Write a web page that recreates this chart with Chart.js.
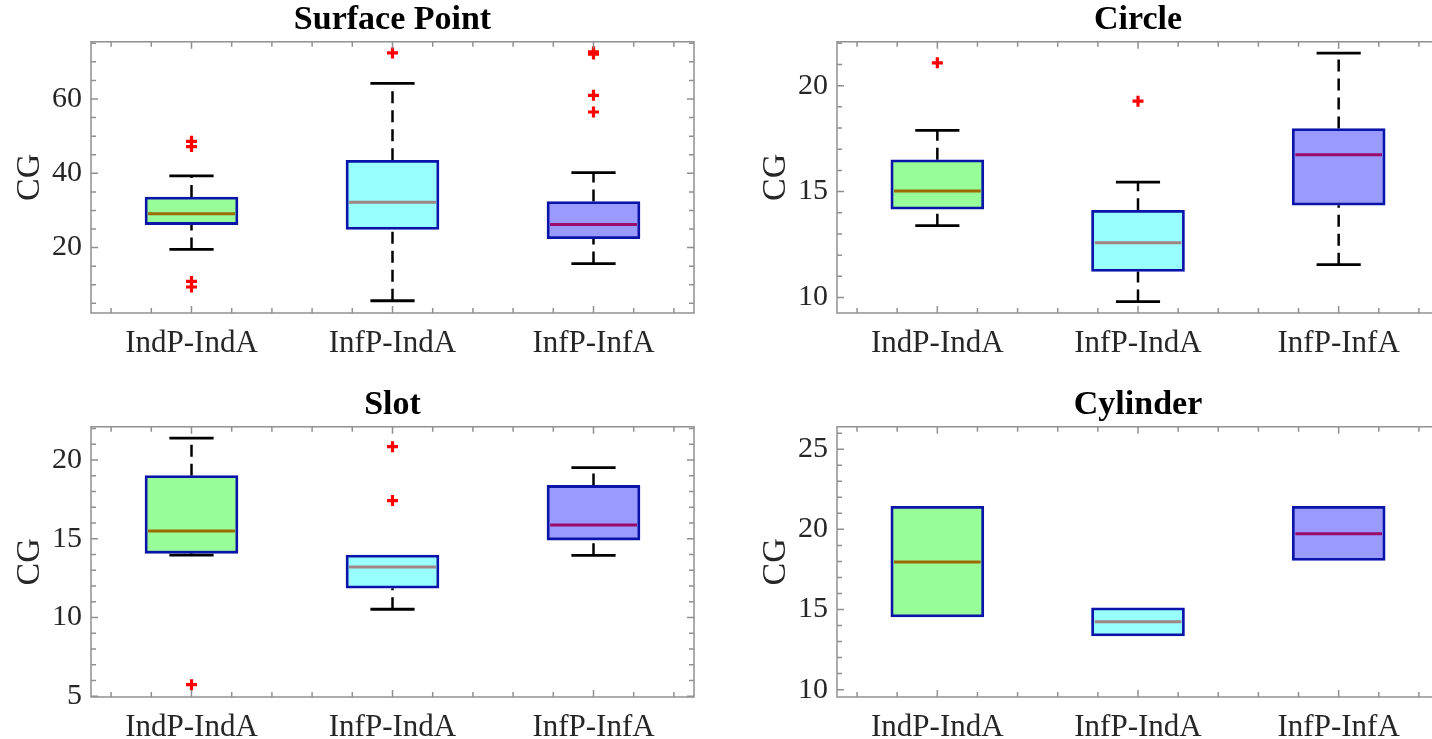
<!DOCTYPE html>
<html><head><meta charset="utf-8">
<script src="https://cdn.jsdelivr.net/npm/chart.js@4"></script>
<style>
html,body{margin:0;padding:0;background:#fff;overflow:hidden;width:1432px;height:739px;position:relative;}
canvas{position:absolute;display:block;}
</style></head><body>
<canvas id="c0" width="716" height="370" style="left:0;top:0"></canvas>
<canvas id="c1" width="740" height="370" style="left:716px;top:0"></canvas>
<canvas id="c2" width="716" height="369" style="left:0;top:370px"></canvas>
<canvas id="c3" width="740" height="369" style="left:716px;top:370px"></canvas>
<script>
// ---------- DATA ----------
const groups = ['IndP-IndA', 'InfP-IndA', 'InfP-InfA'];
const titles = ['Surface Point', 'Circle', 'Slot', 'Cylinder'];
const yLabel = 'CG';

// Surface Point
const spQ1   = [26.2, 24.9, 22.4];
const spMed  = [29.1, 32.2, 26.2];
const spQ3   = [33.6, 43.5, 32.4];
const spLow  = [19.5, 5.7, 15.7];
const spHigh = [39.3, 64.2, 40.2];
const spOut  = [[48.6, 47.2, 10.9, 9.4], [72.4], [72.7, 72.1, 61.0, 56.5]];
const spTicks = [20, 40, 60];

// Circle
const ciQ1   = [14.17, 11.23, 14.36];
const ciMed  = [15.03, 12.58, 16.74];
const ciQ3   = [16.5, 14.12, 17.98];
const ciLow  = [13.39, 9.81, 11.55];
const ciHigh = [17.89, 15.45, 21.54];
const ciOut  = [[21.08], [19.27], []];
const ciTicks = [10, 15, 20];

// Slot
const slQ1   = [14.07, 11.86, 14.91];
const slMed  = [15.48, 13.2, 15.86];
const slQ3   = [19.0, 13.96, 18.38];
const slLow  = [13.96, 10.52, 13.94];
const slHigh = [21.38, 13.96, 19.51];
const slOut  = [[5.73], [20.84, 17.42], []];
const slTicks = [5, 10, 15, 20];

// Cylinder
const cyQ1   = [14.54, 13.35, 18.06];
const cyMed  = [17.97, 14.23, 19.73];
const cyQ3   = [21.44, 15.1, 21.44];
const cyLow  = [14.54, 13.35, 18.06];
const cyHigh = [21.44, 15.1, 21.44];
const cyOut  = [[], [], []];
const cyTicks = [10, 15, 20, 25];

// axis limits
const spRange = [2.4, 75.4];
const ciRange = [9.27, 22.07];
const slRange = [4.95, 22.1];
const cyRange = [9.54, 26.4];

// ---------- STYLE ----------
const fills   = ['#98fc98', '#98fefe', '#9a9afc'];
const medCols = ['#9b6a00', '#a08585', '#9a0a6a'];
const edgeCol = '#0a14a8';
const FONT = "'Liberation Serif', 'Times New Roman', serif";
const TXT = '#262626';

const panels = [
  {id:'c0', title:titles[0], q1:spQ1, med:spMed, q3:spQ3, lo:spLow, hi:spHigh, out:spOut, ticks:spTicks, range:spRange, minor:5,
   yW:91, xH:57, padR:22, tPad:[0,1], yTitlePad:10},
  {id:'c1', title:titles[1], q1:ciQ1, med:ciMed, q3:ciQ3, lo:ciLow, hi:ciHigh, out:ciOut, ticks:ciTicks, range:ciRange, minor:1,
   yW:121, xH:57, padR:17, tPad:[0,1], yTitlePad:40},
  {id:'c2', title:titles[2], q1:slQ1, med:slMed, q3:slQ3, lo:slLow, hi:slHigh, out:slOut, ticks:slTicks, range:slRange, minor:1,
   yW:91, xH:42, padR:22, tPad:[15,1], yTitlePad:10},
  {id:'c3', title:titles[3], q1:cyQ1, med:cyMed, q3:cyQ3, lo:cyLow, hi:cyHigh, out:cyOut, ticks:cyTicks, range:cyRange, minor:1,
   yW:121, xH:42, padR:17, tPad:[15,1], yTitlePad:40},
];

const BOX_HALF = 0.228;
const CAP_HALF = 0.11;

// minor x tick positions (every 0.2)
const xTickVals = [];
for (let k = 3; k <= 17; k++) xTickVals.push(Math.round(k * 20) / 100);

const axesBox = {
  id: 'axesBox',
  afterDatasetsDraw(chart) {
    const {ctx, chartArea: a, scales: {x, y}} = chart;
    const p = chart.options.plugins.axesBox;
    ctx.save();
    ctx.strokeStyle = '#909090';
    ctx.lineWidth = 1.5;
    ctx.strokeRect(a.left, a.top, a.right - a.left, a.bottom - a.top);
    ctx.beginPath();
    xTickVals.forEach(v => {
      const px = x.getPixelForValue(v);
      const len = Number.isInteger(v) ? 7 : 5;
      ctx.moveTo(px, a.bottom); ctx.lineTo(px, a.bottom - len);
      ctx.moveTo(px, a.top); ctx.lineTo(px, a.top + len);
    });
    y.ticks.forEach(t => {
      const py = y.getPixelForValue(t.value);
      const len = p.majors.includes(t.value) ? 7 : 5;
      ctx.moveTo(a.left, py); ctx.lineTo(a.left + len, py);
      ctx.moveTo(a.right, py); ctx.lineTo(a.right - len, py);
    });
    ctx.stroke();
    ctx.restore();
  }
};

function segs(pairs) {
  const d = [];
  pairs.forEach(([p1, p2]) => {
    d.push({x: p1[0], y: p1[1]}, {x: p2[0], y: p2[1]}, {x: p2[0], y: null});
  });
  return d;
}

panels.forEach(P => {
  const idx = groups.map((g, i) => i + 1);
  const datasets = [];
  // boxes
  datasets.push({
    type: 'bar',
    data: idx.map((c, i) => ({x: c, y: [P.q1[i], P.q3[i]]})),
    backgroundColor: fills,
    borderColor: edgeCol,
    borderWidth: 2.8,
    borderSkipped: false,
    barThickness: 93,
    order: 1
  });
  // medians
  idx.forEach((c, i) => {
    datasets.push({
      type: 'line',
      data: [{x: c - BOX_HALF + 0.012, y: P.med[i]}, {x: c + BOX_HALF - 0.012, y: P.med[i]}],
      borderColor: medCols[i], borderWidth: 3, pointRadius: 0, order: 0
    });
  });
  // whiskers (dashed) and caps, only where they extend beyond the box
  const wPairs = [], cPairs = [];
  idx.forEach((c, i) => {
    if (P.hi[i] > P.q3[i]) {
      wPairs.push([[c, P.q3[i]], [c, P.hi[i]]]);
      cPairs.push([[c - CAP_HALF, P.hi[i]], [c + CAP_HALF, P.hi[i]]]);
    }
    if (P.lo[i] < P.q1[i]) {
      wPairs.push([[c, P.lo[i]], [c, P.q1[i]]]);
      cPairs.push([[c - CAP_HALF, P.lo[i]], [c + CAP_HALF, P.lo[i]]]);
    }
  });
  datasets.push({
    type: 'line', data: segs(wPairs), spanGaps: false,
    borderColor: '#000', borderWidth: 2.5, borderDash: [12, 7], pointRadius: 0, order: 3
  });
  datasets.push({
    type: 'line', data: segs(cPairs), spanGaps: false,
    borderColor: '#000', borderWidth: 2.8, pointRadius: 0, order: 3
  });
  // outliers
  const outPts = [];
  P.out.forEach((arr, i) => arr.forEach(v => outPts.push({x: i + 1, y: v})));
  datasets.push({
    type: 'scatter', data: outPts,
    pointStyle: 'cross', pointRadius: 5.5, pointBorderWidth: 3.2,
    borderColor: '#ff0000', backgroundColor: '#ff0000', order: 0
  });

  const yTickVals = [];
  for (let v = Math.ceil(P.range[0] / P.minor) * P.minor; v <= P.range[1]; v += P.minor) yTickVals.push(v);

  new Chart(document.getElementById(P.id), {
    type: 'bar',
    data: {datasets},
    plugins: [axesBox],
    options: {
      responsive: false,
      animation: false,
      events: [],
      layout: {padding: {left: 0, right: P.padR, top: 0, bottom: 0}},
      plugins: {
        legend: {display: false},
        tooltip: {enabled: false},
        title: {
          display: true, text: P.title, color: '#000', fullSize: false,
          font: {family: FONT, size: 34, weight: 'bold', lineHeight: 1.2},
          padding: {top: P.tPad[0], bottom: P.tPad[1]}
        },
        axesBox: {majors: P.ticks}
      },
      scales: {
        x: {
          type: 'linear', min: 0.5, max: 3.5, offset: false,
          grid: {display: false, drawTicks: false}, border: {display: false},
          afterBuildTicks: ax => { ax.ticks = xTickVals.map(v => ({value: v})); },
          ticks: {
            autoSkip: false, maxRotation: 0, minRotation: 0, padding: 12, color: TXT,
            font: {family: FONT, size: 31},
            callback: v => Number.isInteger(v) ? groups[v - 1] : ''
          },
          afterFit: ax => { ax.height = P.xH; ax.paddingLeft = 0; ax.paddingRight = 0; }
        },
        y: {
          type: 'linear', min: P.range[0], max: P.range[1],
          grid: {display: false, drawTicks: false}, border: {display: false},
          afterBuildTicks: ax => { ax.ticks = yTickVals.map(v => ({value: v})); },
          ticks: {
            autoSkip: false, padding: 9, color: TXT,
            font: {family: FONT, size: 30},
            callback: v => P.ticks.includes(v) ? String(v) : ''
          },
          title: {
            display: true, text: yLabel, color: TXT,
            font: {family: FONT, size: 34, lineHeight: 1.2},
            padding: {top: P.yTitlePad, bottom: 0}
          },
          afterFit: ax => { ax.width = P.yW; ax.paddingTop = 0; ax.paddingBottom = 0; }
        }
      }
    }
  });
});
</script>
</body></html>
